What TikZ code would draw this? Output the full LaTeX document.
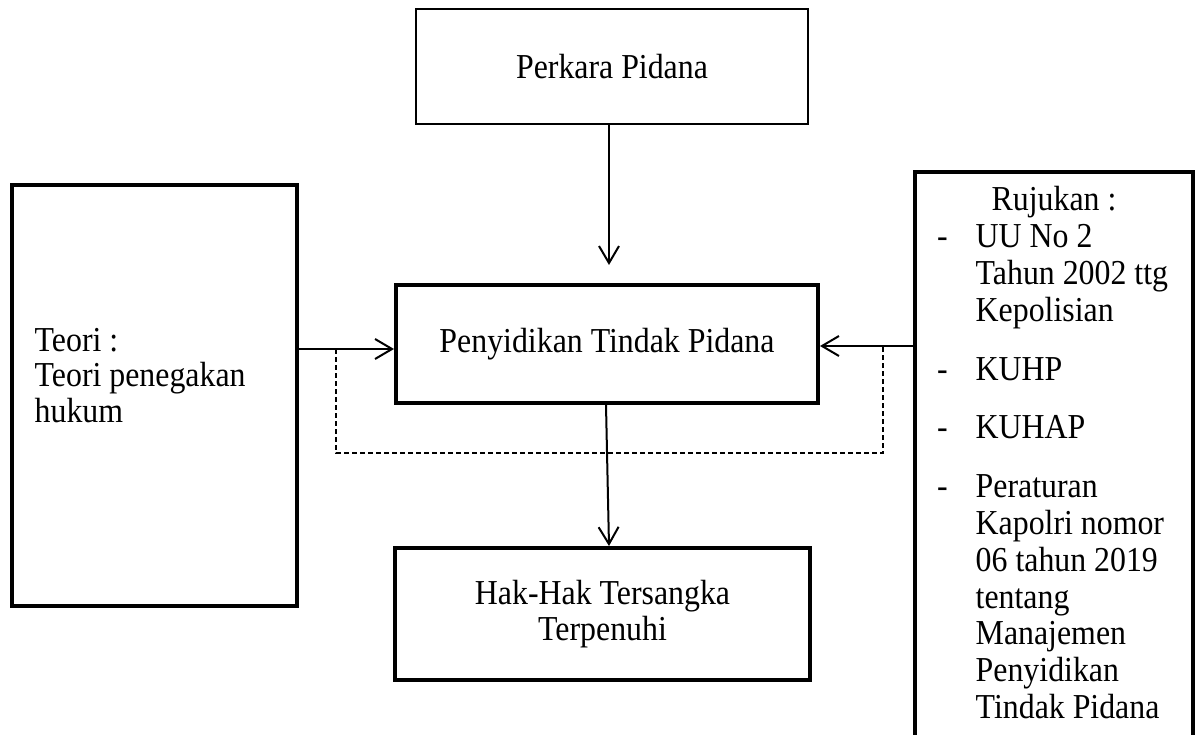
\documentclass[tikz,border=0pt]{standalone}
\usepackage{fontspec}
\setmainfont{Liberation Serif}[FakeStretch=0.91]
\usetikzlibrary{arrows.meta}
\begin{document}
\begin{tikzpicture}[x=1pt,y=-1pt,
  font=\fontsize{35}{36.8}\selectfont,
  thinbox/.style={draw, line width=1.3pt, inner sep=0pt, align=center},
  boldbox/.style={draw, line width=4pt, inner sep=0pt, align=center},
  arr/.style={line width=2pt, -{Straight Barb[length=17pt,width=20pt]}},
  dashline/.style={line width=1.3pt, dash pattern=on 5pt off 3pt},
  txt/.style={anchor=base west, inner sep=0pt}]
\useasboundingbox (0,0) rectangle (1202,735);
\clip (0,0) rectangle (1202,735);
% boxes
\node[thinbox, minimum width=392pt, minimum height=115pt] (per) at (612,66.5) {Perkara Pidana};
\node[boldbox, minimum width=422pt, minimum height=118pt] (pen) at (607,344) {Penyidikan Tindak Pidana};
\node[boldbox, minimum width=415pt, minimum height=132pt] (hak) at (602.5,614) {Hak-Hak Tersangka\\Terpenuhi};
\node[boldbox, minimum width=285pt, minimum height=421pt] (teo) at (154.5,395.5) {};
\node[boldbox, minimum width=278pt, minimum height=620pt, anchor=north] (rbox) at (1054,170) {};
% texts
\node[txt] (teotxt) at (34.5,351) {\renewcommand{\arraystretch}{0.965}\begin{tabular}[t]{@{}l@{}}Teori :\\Teori penegakan\\hukum\end{tabular}};
\node[txt] (ruj) at (937,211) {\begin{tabular}[t]{@{}p{38.5pt}@{}l@{}}
\multicolumn{2}{@{\hspace{54.5pt}}l@{}}{Rujukan :}\\
-& UU No 2\\
 & Tahun 2002 ttg\\
 & Kepolisian\\[22pt]
-& KUHP\\[22pt]
-& KUHAP\\[22pt]
-& Peraturan\\
 & Kapolri nomor\\
 & 06 tahun 2019\\
 & tentang\\
 & Manajemen\\
 & Penyidikan\\
 & Tindak Pidana
\end{tabular}};
% helper coordinates
\coordinate (la) at (0,349);
\coordinate (ra) at (0,346);
\coordinate (tt) at (609,265);
\coordinate (dl) at (336,349);
\coordinate (dr) at (883,346);
\coordinate (dbot) at (0,453);
% connectors
\draw[arr] (tt |- per.south) -- (tt);
\draw[arr] (teo.east |- la) -- (pen.west |- la);
\draw[arr] (rbox.west |- ra) -- (pen.east |- ra);
\draw[arr] ([xshift=-1pt]pen.south) -- ([xshift=6.5pt]hak.north);
\draw[dashline] (dl) -- (dl |- dbot) -- (dr |- dbot) -- (dr);
\end{tikzpicture}
\end{document}
